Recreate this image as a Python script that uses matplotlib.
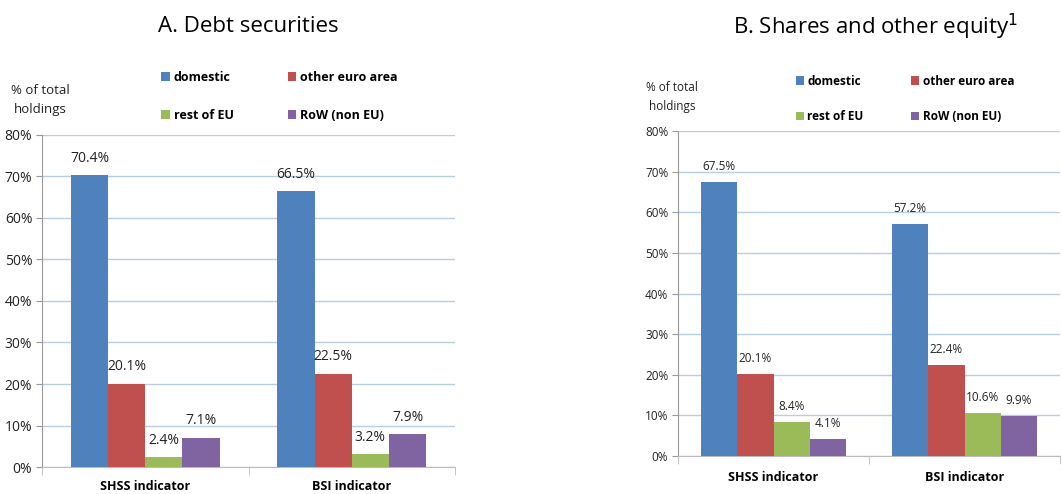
import matplotlib.pyplot as plt
import numpy as np

plt.rcParams['font.family'] = ['Open Sans', 'DejaVu Sans']

# data
categories = ['SHSS indicator', 'BSI indicator']
series = ['domestic', 'other euro area', 'rest of EU', 'RoW (non EU)']
colors = ['#4F81BD', '#C0504D', '#9BBB59', '#8064A2']

debt = {
    'domestic': [70.4, 66.5],
    'other euro area': [20.1, 22.5],
    'rest of EU': [2.4, 3.2],
    'RoW (non EU)': [7.1, 7.9],
}
equity = {
    'domestic': [67.5, 57.2],
    'other euro area': [20.1, 22.4],
    'rest of EU': [8.4, 10.6],
    'RoW (non EU)': [4.1, 9.9],
}
yticks = [0, 10, 20, 30, 40, 50, 60, 70, 80]

W, H = 1062, 494
fig = plt.figure(figsize=(W / 100, H / 100), dpi=100)


def px_axes(x0, y0, x1, y1):
    return fig.add_axes([x0 / W, 1 - y1 / H, (x1 - x0) / W, (y1 - y0) / H])


def panel(ax, data, bw, fs, lab_fs, xfs, xpad):
    x = np.arange(len(categories))
    for i, s in enumerate(series):
        xs = x + (i - 1.5) * bw
        ax.bar(xs, data[s], bw, color=colors[i], label=s, zorder=3)
        for xi, v in zip(xs, data[s]):
            ax.text(xi, v + 2.2, f'{v:.1f}%', ha='center', va='bottom',
                    fontsize=lab_fs, color='#222222')
    ax.set_xlim(-0.5, 1.5)
    ax.set_ylim(0, 80)
    ax.set_yticks(yticks)
    ax.set_yticklabels([f'{t}%' for t in yticks], fontsize=fs, color='#222222')
    ax.yaxis.grid(True, color='#B9CDE5', lw=1, zorder=0)
    ax.set_xticks(x)
    ax.set_xticklabels(categories, fontsize=xfs, fontweight='bold')
    ax.tick_params(axis='x', length=0, pad=xpad)
    ax.set_xticks([-0.5, 0.5, 1.5], minor=True)
    ax.tick_params(axis='x', which='minor', length=6, color='#BBBBBB')
    ax.tick_params(axis='y', length=4, color='#999999', pad=3)
    for sp in ['top', 'right']:
        ax.spines[sp].set_visible(False)
    ax.spines['left'].set_color('#999999')
    ax.spines['bottom'].set_color('#BBBBBB')


ax1 = px_axes(42, 135, 455, 467)
panel(ax1, debt, 0.18, 10, 10, 9, 9)
ax2 = px_axes(678, 131, 1060, 456)
panel(ax2, equity, 0.19, 8.5, 8.5, 9, 11)

fig.text(248 / W, 1 - 27 / H, 'A. Debt securities', ha='center', va='center', fontsize=16)
fig.text(875 / W, 1 - 27 / H, 'B. Shares and other equity$^1$', ha='center', va='center', fontsize=16)

fig.text(40 / W, 1 - 100 / H, '% of total\nholdings', ha='center', va='center',
         fontsize=9.5, color='#222222', linespacing=1.6)
fig.text(672 / W, 1 - 97 / H, '% of total\nholdings', ha='center', va='center',
         fontsize=8.5, color='#222222', linespacing=1.6)

h, l = ax1.get_legend_handles_labels()
order = [0, 2, 1, 3]
fig.legend([h[i] for i in order], [l[i] for i in order], ncol=2,
           loc='upper left', bbox_to_anchor=(150 / W, 1 - 60 / H), frameon=False,
           prop={'weight': 'bold', 'size': 9}, handlelength=0.7, handleheight=0.7,
           handletextpad=0.3, labelspacing=2.0, columnspacing=4.3)
fig.legend([h[i] for i in order], [l[i] for i in order], ncol=2,
           loc='upper left', bbox_to_anchor=(785 / W, 1 - 64 / H), frameon=False,
           prop={'weight': 'bold', 'size': 8.5}, handlelength=0.7, handleheight=0.7,
           handletextpad=0.3, labelspacing=1.9, columnspacing=4.0)

fig.savefig('out.png', dpi=100)
